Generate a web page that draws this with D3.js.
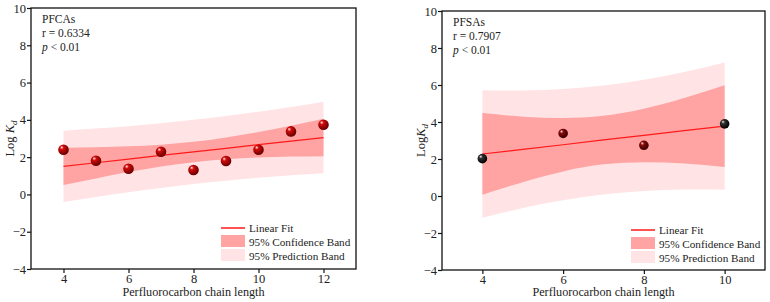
<!DOCTYPE html>
<html>
<head>
<meta charset="utf-8">
<script src="https://cdn.jsdelivr.net/npm/d3@7"></script>
<style>
  body { margin: 0; background: #fff; }
  svg, svg text { font-family: "Times New Roman", Times, "Liberation Serif", serif !important; }
  svg text { fill: #222; }
</style>
</head>
<body>
<div id="chart"></div>
<script>
// PFCAs panel
var pfcaChain = [4, 5, 6, 7, 8, 9, 10, 11, 12];
var pfcaLogKd = [2.40, 1.81, 1.38, 2.29, 1.31, 1.79, 2.40, 3.38, 3.74];
var pfcaFit   = [1.50, 1.70, 1.89, 2.09, 2.28, 2.47, 2.67, 2.86, 3.05];
var pfcaConfLo = [0.50, 0.86, 1.20, 1.50, 1.73, 1.89, 1.98, 2.03, 2.05];
var pfcaConfHi = [2.51, 2.53, 2.58, 2.67, 2.82, 3.06, 3.35, 3.69, 4.06];
var pfcaPredLo = [-0.41, -0.14, 0.12, 0.35, 0.56, 0.74, 0.89, 1.03, 1.14];
var pfcaPredHi = [3.42, 3.53, 3.66, 3.82, 4.00, 4.21, 4.44, 4.69, 4.97];

// PFSAs panel
var pfsaChain = [4, 6, 8, 10];
var pfsaLogKd = [2.02, 3.38, 2.74, 3.90];
var pfsaBandX  = [4, 5, 6, 7, 8, 9, 10];
var pfsaFit    = [2.27, 2.52, 2.77, 3.03, 3.28, 3.53, 3.78];
var pfsaConfLo = [0.07, 0.75, 1.33, 1.71, 1.83, 1.76, 1.57];
var pfsaConfHi = [4.48, 4.29, 4.22, 4.34, 4.72, 5.30, 5.98];
var pfsaPredLo = [-1.17, -0.65, -0.23, 0.08, 0.27, 0.35, 0.34];
var pfsaPredHi = [5.71, 5.70, 5.78, 5.97, 6.28, 6.70, 7.22];

var yTicks = [-4, -2, 0, 2, 4, 6, 8, 10];
var legendLabels = ["Linear Fit", "95% Confidence Band", "95% Prediction Band"];

var serif = "'Times New Roman', Times, 'Liberation Serif', serif";
var confColor = "#ffa3a3";
var predColor = "#ffe3e5";
var fitColor  = "#ff1a1a";

var svg = d3.select("#chart").append("svg")
    .attr("width", 770)
    .attr("height", 302)
    .style("font-family", serif);

var defs = svg.append("defs");
function sphere(id, base, dark) {
  var g = defs.append("radialGradient").attr("id", id)
      .attr("cx", "40%").attr("cy", "38%").attr("r", "60%")
      .attr("fx", "32%").attr("fy", "28%");
  g.append("stop").attr("offset", "0%").attr("stop-color", "#ffe8e8");
  g.append("stop").attr("offset", "30%").attr("stop-color", base);
  g.append("stop").attr("offset", "100%").attr("stop-color", dark);
}
sphere("ballRed", "#d40a0a", "#6a0000");
sphere("ballMaroon", "#8a0a0a", "#3a0000");
sphere("ballBlack", "#333", "#000");

var pfsaBall = ["ballBlack", "ballMaroon", "ballMaroon", "ballBlack"];

function label(sel) {
  return sel.style("font-family", serif).attr("fill", "#222");
}

function panel(opt) {
  var x = d3.scaleLinear().domain(opt.xDomain).range([opt.left, opt.right]);
  var y = d3.scaleLinear().domain([-4, 10]).range([opt.bottom, opt.top]);
  var g = svg.append("g");

  var bandX = opt.bandX;
  var area = function (lo, hi) {
    return d3.area()
      .x(function (d, i) { return x(bandX[i]); })
      .y0(function (d, i) { return y(lo[i]); })
      .y1(function (d, i) { return y(hi[i]); })
      .curve(d3.curveNatural)(bandX);
  };
  g.append("path").attr("d", area(opt.predLo, opt.predHi)).attr("fill", predColor);
  g.append("path").attr("d", area(opt.confLo, opt.confHi)).attr("fill", confColor);

  g.append("path")
    .attr("d", d3.line()
      .x(function (d, i) { return x(bandX[i]); })
      .y(function (d) { return y(d); })(opt.fit))
    .attr("fill", "none")
    .attr("stroke", fitColor)
    .attr("stroke-width", 1.2);

  g.selectAll("circle.pt")
    .data(opt.pts)
    .enter()
    .append("circle")
    .attr("cx", function (d) { return x(d[0]); })
    .attr("cy", function (d) { return y(d[1]); })
    .attr("r", opt.r)
    .attr("fill", function (d, i) { return "url(#" + opt.ball(i) + ")"; });

  // frame
  g.append("rect")
    .attr("x", opt.left).attr("y", opt.top)
    .attr("width", opt.right - opt.left).attr("height", opt.bottom - opt.top)
    .attr("fill", "none").attr("stroke", "#111").attr("stroke-width", 1.3);

  var xAxis = g.append("g")
    .attr("transform", "translate(0," + opt.bottom + ")")
    .call(d3.axisBottom(x).tickValues(opt.xTicks).tickSize(4).tickPadding(1));
  var yAxis = g.append("g")
    .attr("transform", "translate(" + opt.left + ",0)")
    .call(d3.axisLeft(y).tickValues(yTicks).tickSize(4).tickPadding(1)
      .tickFormat(function (d) { return d < 0 ? "\u2212" + Math.abs(d) : d; }));
  [xAxis, yAxis].forEach(function (a) {
    a.attr("font-family", null);
    a.select(".domain").remove();
    a.selectAll("line").attr("stroke", "#111").attr("stroke-width", 1.2);
    label(a.selectAll("text")).attr("font-size", 12.5);
  });

  label(g.append("text"))
    .attr("x", (opt.left + opt.right) / 2)
    .attr("y", 296)
    .attr("text-anchor", "middle")
    .attr("font-size", 12.2)
    .text("Perfluorocarbon chain length");

  var yl = label(g.append("text"))
    .attr("transform", "translate(" + (opt.left - 17) + "," + ((opt.top + opt.bottom) / 2) + ") rotate(-90)")
    .attr("text-anchor", "middle")
    .attr("font-size", 12.5);
  yl.append("tspan").text(opt.logText);
  yl.append("tspan").attr("font-style", "italic").text("K");
  yl.append("tspan").attr("font-style", "italic").attr("font-size", 9).attr("dy", 3).text("d");

  // annotation
  var ax = opt.left + 11;
  label(g.append("text")).attr("x", ax).attr("y", opt.top + 15).attr("font-size", 11.5).text(opt.name);
  label(g.append("text")).attr("x", ax).attr("y", opt.top + 29).attr("font-size", 11.5).text("r = " + opt.r2);
  var pt = label(g.append("text")).attr("x", ax).attr("y", opt.top + 42.5).attr("font-size", 11.5);
  pt.append("tspan").attr("font-style", "italic").text("p");
  pt.append("tspan").text(" < 0.01");

  // legend
  var lx = opt.legendX, ly = opt.legendY;
  var lg = g.append("g");
  lg.append("line")
    .attr("x1", lx).attr("x2", lx + 24)
    .attr("y1", ly).attr("y2", ly)
    .attr("stroke", fitColor).attr("stroke-width", 1.5);
  lg.append("rect").attr("x", lx).attr("y", ly + 7).attr("width", 24).attr("height", 12).attr("fill", confColor);
  lg.append("rect").attr("x", lx).attr("y", ly + 21).attr("width", 24).attr("height", 12).attr("fill", predColor);
  label(lg.selectAll("text.lg")
    .data(legendLabels)
    .enter()
    .append("text"))
    .attr("x", lx + 28)
    .attr("y", function (d, i) { return ly + 3.8 + i * 14; })
    .attr("font-size", 11.2)
    .text(function (d) { return d; });
}

panel({
  name: "PFCAs", r2: "0.6334", logText: "Log ",
  left: 31, right: 356, top: 8, bottom: 269,
  xDomain: [3, 13], xTicks: [4, 6, 8, 10, 12],
  bandX: pfcaChain, fit: pfcaFit,
  confLo: pfcaConfLo, confHi: pfcaConfHi, predLo: pfcaPredLo, predHi: pfcaPredHi,
  pts: pfcaChain.map(function (c, i) { return [c, pfcaLogKd[i]]; }),
  ball: function () { return "ballRed"; }, r: 5.3,
  legendX: 221, legendY: 228
});

panel({
  name: "PFSAs", r2: "0.7907", logText: "Log",
  left: 442, right: 765, top: 11, bottom: 270,
  xDomain: [3, 11], xTicks: [4, 6, 8, 10],
  bandX: pfsaBandX, fit: pfsaFit,
  confLo: pfsaConfLo, confHi: pfsaConfHi, predLo: pfsaPredLo, predHi: pfsaPredHi,
  pts: pfsaChain.map(function (c, i) { return [c, pfsaLogKd[i]]; }),
  ball: function (i) { return pfsaBall[i]; }, r: 4.8,
  legendX: 631, legendY: 230
});
</script>
</body>
</html>
